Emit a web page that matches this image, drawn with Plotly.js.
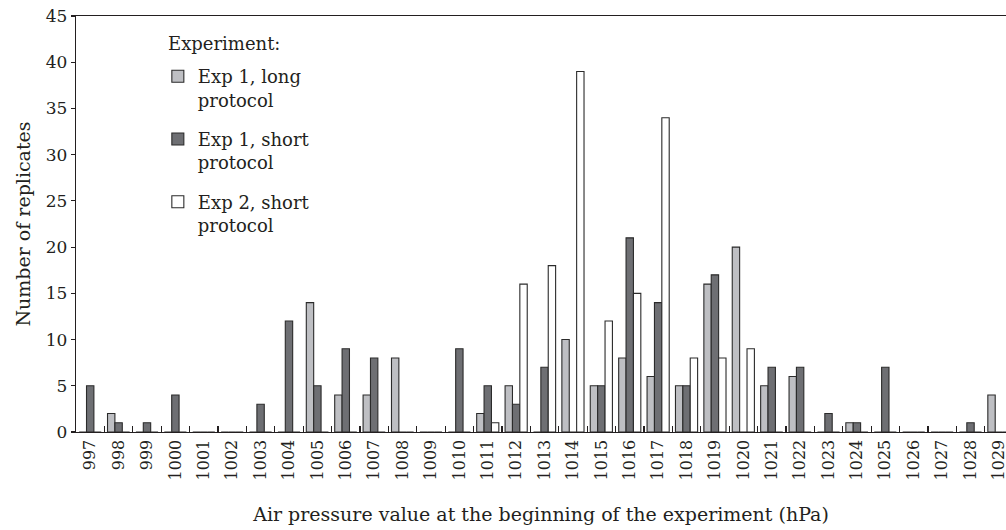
<!DOCTYPE html>
<html>
<head>
<meta charset="utf-8">
<script src="https://cdn.plot.ly/plotly-3.0.1.min.js"></script>
<style>html,body{margin:0;padding:0;background:#fff;}#chart{width:1006px;height:530px;}</style>
</head>
<body>
<div id="chart"></div>
<script>
const pressures = ["997","998","999","1000","1001","1002","1003","1004","1005","1006","1007","1008","1009","1010","1011","1012","1013","1014","1015","1016","1017","1018","1019","1020","1021","1022","1023","1024","1025","1026","1027","1028","1029"];
const exp1Long  = [0,2,0,0,0,0,0,0,14,4,4,8,0,0,2,5,0,10,5,8,6,5,16,20,5,6,0,1,0,0,0,0,4];
const exp1Short = [5,1,1,4,0,0,3,12,5,9,8,0,0,9,5,3,7,0,5,21,14,5,17,0,7,7,2,1,7,0,0,1,0];
const exp2Short = [0,0,0,0,0,0,0,0,0,0,0,0,0,0,1,16,18,39,12,15,34,8,8,9,0,0,0,0,0,0,0,0,0];
const seriesNames = ["Exp 1, long<br>protocol","Exp 1, short<br>protocol","Exp 2, short<br>protocol"];
const legendHeading = "Experiment:";

const FONT = "DejaVu Serif, Liberation Serif, serif";
const INK = "#231f20";
const outline = {color:"#2b2b2b", width:1.1};
function mk(y, name, color, grp){
  return {type:"bar", x:pressures, y:y, name:name, legendgroup:grp,
    marker:{color:color, line:outline}, hoverinfo:"x+y+name"};
}
const data = [
  mk(exp1Long,  seriesNames[0], "#bebfc3", "a"),
  mk(exp1Short, seriesNames[1], "#6e6f73", "b"),
  mk(exp2Short, seriesNames[2], "#ffffff", "c")
];
const layout = {
  width:1006, height:530,
  margin:{l:76, r:0, t:16, b:98},
  paper_bgcolor:"#fff", plot_bgcolor:"#fff",
  font:{family:FONT, color:INK, size:17},
  barmode:"group", bargap:0.22, bargroupgap:0,
  showlegend:true,
  legend:{x:0.088, y:0.899, xanchor:"left", yanchor:"top",
    bgcolor:"rgba(0,0,0,0)", font:{family:FONT, size:18, color:INK},
    tracegroupgap:13, valign:"top", traceorder:"grouped"},
  annotations:[{text:legendHeading, xref:"paper", yref:"paper", x:0.0968, y:0.935,
    xanchor:"left", yanchor:"middle", showarrow:false, font:{family:FONT, size:18, color:INK}}],
  xaxis:{type:"category", range:[-0.5, 32.25], tickangle:-90,
    ticks:"inside", tickson:"boundaries", ticklen:6, tickwidth:1.2, tickcolor:INK,
    showline:true, linecolor:INK, linewidth:1.3, mirror:true,
    showgrid:false, zeroline:false, automargin:false,
    tickfont:{family:FONT, size:16},
    title:{text:"Air pressure value at the beginning of the experiment (hPa)",
      font:{family:FONT, size:19}, standoff:28}},
  yaxis:{range:[0,45], dtick:5, tick0:0, ticks:"outside", ticklen:4, tickwidth:1.2, tickcolor:INK,
    showline:true, linecolor:INK, linewidth:1.3, mirror:false,
    showgrid:false, zeroline:false, automargin:false,
    tickfont:{family:FONT, size:17},
    title:{text:"Number of replicates", font:{family:FONT, size:19}, standoff:10}}
};
Plotly.newPlot("chart", data, layout, {staticPlot:true, displayModeBar:false});
</script>
</body>
</html>
